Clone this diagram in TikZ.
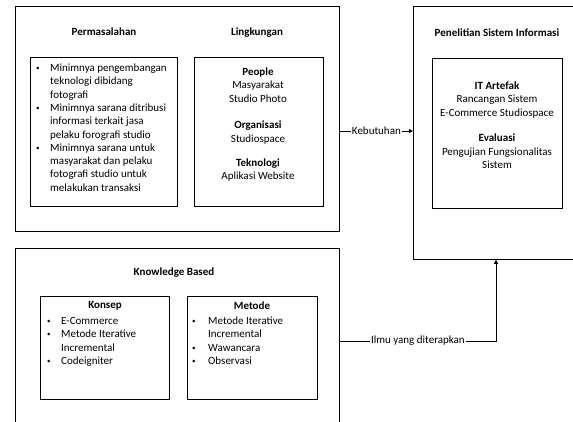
\documentclass[tikz,border=0pt]{standalone}
\usepackage{fontspec}
\setmainfont{Carlito}
\usetikzlibrary{arrows.meta}
\tikzset{
  box/.style={draw, line width=0.8pt, inner sep=0pt, anchor=north west},
  heading/.style={font=\bfseries, inner sep=0pt},
  txt/.style={inner sep=0pt},
  arr/.style={-{Triangle[length=4pt,width=4pt]}, line width=0.8pt},
  lbl/.style={fill=white, inner sep=1pt}
}
\newcommand{\bl}{\raisebox{1pt}{\scriptsize\textbullet}}
\begin{document}
\fontsize{11pt}{13.3pt}\selectfont
\begin{tikzpicture}[x=1pt, y=-1pt]
\useasboundingbox (0,0) rectangle (573,421);
\clip (0,0) rectangle (573,421);
% outer boxes
\node[box, minimum width=324pt, minimum height=225pt] (env) at (15,6) {};
\node[box, minimum width=177pt, minimum height=253pt] (pen) at (413,6) {};
\node[box, minimum width=324pt, minimum height=192pt] (kb) at (15,248) {};
% inner boxes
\node[box, minimum width=147pt, minimum height=149pt] (perm) at (30,57) {};
\node[box, minimum width=129pt, minimum height=149pt] (ling) at (194,57) {};
\node[box, minimum width=130pt, minimum height=150pt] (itart) at (432,58) {};
\node[box, minimum width=129pt, minimum height=103pt] (konsep) at (40,296) {};
\node[box, minimum width=130pt, minimum height=103pt] (metode) at (187,296) {};
% headings
\node[heading] (permtitle) at (104,32) {Permasalahan};
\node[heading] (lingtitle) at (257,33) {Lingkungan};
\node[heading] (pentitle) at (497,33) {Penelitian Sistem Informasi};
\node[heading] (kbtitle) at (174,273) {Knowledge Based};
\node[heading] (konseptitle) at (105,306) {Konsep};
\node[heading] (metodetitle) at (252,306) {Metode};
% texts
\node[txt, anchor=north west] (permlist) at (36,62) {\begin{tabular}{@{}p{14pt}@{}l@{}}
\bl & Minimnya pengembangan\\
 & teknologi dibidang\\
 & fotografi\\
\bl & Minimnya sarana ditribusi\\
 & informasi terkait jasa\\
 & pelaku forografi studio\\
\bl & Minimnya sarana untuk\\
 & masyarakat dan pelaku\\
 & fotografi studio untuk\\
 & melakukan transaksi
\end{tabular}};
\node[txt, anchor=north] (linglist) at (258,66) {\begin{tabular}{@{}c@{}}
\textbf{People}\\
Masyarakat\\
Studio Photo\\[13.3pt]
\textbf{Organisasi}\\
Studiospace\\[11pt]
\textbf{Teknologi}\\
Aplikasi Website
\end{tabular}};
\node[txt, anchor=north] (itlist) at (497,80) {\begin{tabular}{@{}c@{}}
\textbf{IT Artefak}\\
Rancangan Sistem\\
E-Commerce Studiospace\\[12.5pt]
\textbf{Evaluasi}\\
Pengujian Fungsionalitas\\
Sistem
\end{tabular}};
\node[txt, anchor=north west] (konseplist) at (47,315) {\begin{tabular}{@{}p{14pt}@{}l@{}}
\bl & E-Commerce\\
\bl & Metode Iterative\\
 & Incremental\\
\bl & Codeigniter
\end{tabular}};
\node[txt, anchor=north west] (metodelist) at (192,315) {\begin{tabular}{@{}p{16pt}@{}l@{}}
\bl & Metode Iterative\\
 & Incremental\\
\bl & Wawancara\\
\bl & Observasi
\end{tabular}};
% connectors
\draw[arr] (env.east |- 0,131) -- node[lbl] (kebutuhan) {Kebutuhan} (pen.west |- 0,131);
\draw[arr] (kb.east |- 0,341) -| node[lbl, pos=0.25] (ilmu) {Ilmu yang diterapkan} (pen.south -| 496,0);
\end{tikzpicture}
\end{document}
